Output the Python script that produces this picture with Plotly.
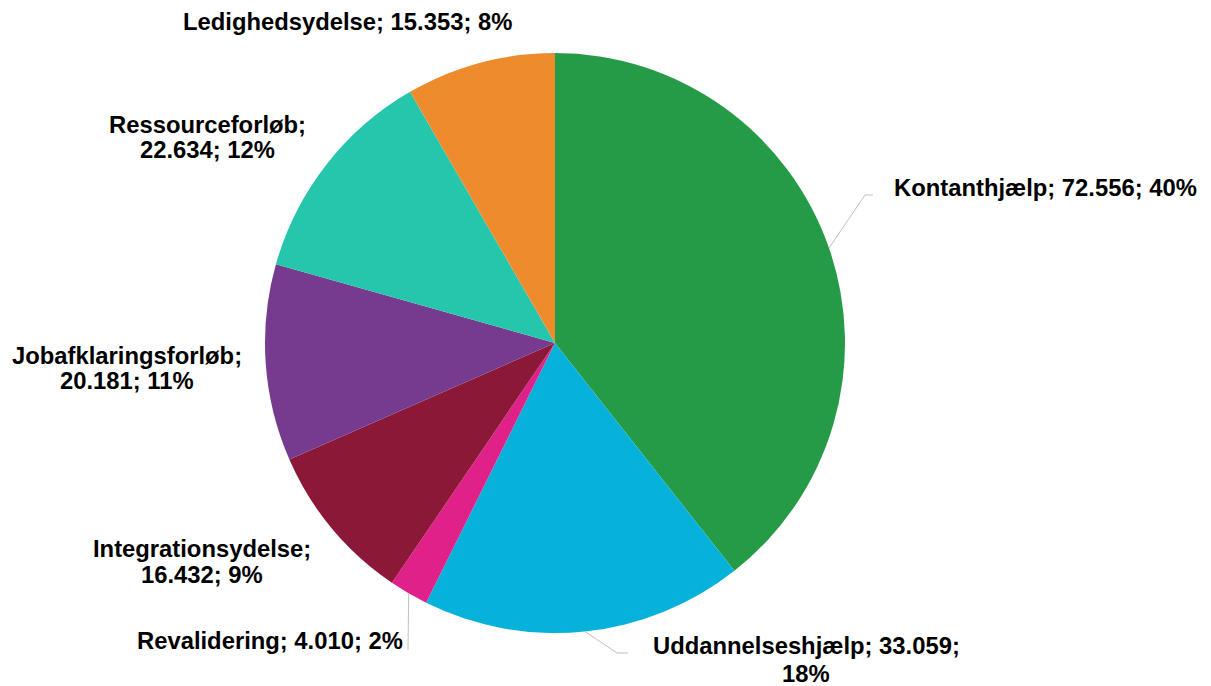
import math
import plotly.graph_objects as go

# ---- data ----
categories = ["Kontanthjælp", "Uddannelseshjælp", "Revalidering", "Integrationsydelse",
              "Jobafklaringsforløb", "Ressourceforløb", "Ledighedsydelse"]
values = [72556, 33059, 4010, 16432, 20181, 22634, 15353]
pct_labels = ["40%", "18%", "2%", "9%", "11%", "12%", "8%"]
colors = ["#259B48", "#07B2DA", "#E0218A", "#8C1838", "#763B8F", "#26C6AD", "#EE8B2D"]

W, H = 1211, 686
CX, CY, R = 555, 343, 290  # pie centre / radius in px
FONT_SIZE = 23.8

def fmt(v):
    return f"{v:,}".replace(",", ".")

# label layout: style of line break, centre x px, centre y px of each line
label_layout = {
    "Kontanthjælp": ("one", 1045, [188]),
    "Uddannelseshjælp": ("pct", 806, [645, 673]),
    "Revalidering": ("one", 270, [640]),
    "Integrationsydelse": ("val", 202, [548, 574]),
    "Jobafklaringsforløb": ("val", 127, [355, 380]),
    "Ressourceforløb": ("val", 207, [125, 149]),
    "Ledighedsydelse": ("one", 347, [21]),
}
# leader lines: elbow / end points (px)
leaders = {
    "Kontanthjælp": [(865, 195), (873, 195)],
    "Uddannelseshjælp": [(617, 653), (628, 653)],
    "Revalidering": [(408, 650)],
}

def px(x):
    return x / W

def py(y):
    return 1 - y / H

fig = go.Figure(go.Pie(
    labels=categories, values=values, sort=False, direction="clockwise", rotation=0,
    marker=dict(colors=colors, line=dict(width=0)),
    textinfo="none", hoverinfo="label+value+percent", showlegend=False,
    domain=dict(x=[px(CX - R), px(CX + R)], y=[py(CY + R), py(CY - R)]),
))

annotations = []
shapes = []
total = sum(values)
cum = 0
for cat, val, pct in zip(categories, values, pct_labels):
    mid = (cum + val / 2) / total * 2 * math.pi
    cum += val
    style, x, ys = label_layout[cat]
    if style == "one":
        lines = [f"{cat}; {fmt(val)}; {pct}"]
    elif style == "pct":
        lines = [f"{cat}; {fmt(val)};", pct]
    else:
        lines = [f"{cat};", f"{fmt(val)}; {pct}"]
    for line, y in zip(lines, ys):
        annotations.append(dict(x=px(x), y=py(y), xref="paper", yref="paper",
                                text=f"<b>{line}</b>", showarrow=False,
                                xanchor="center", yanchor="middle", align="center"))
    if cat in leaders:
        sx = CX + R * math.sin(mid)
        sy = CY - R * math.cos(mid)
        pts = [(sx, sy)] + leaders[cat]
        for (x0, y0), (x1, y1) in zip(pts[:-1], pts[1:]):
            shapes.append(dict(type="line", xref="paper", yref="paper",
                               x0=px(x0), y0=py(y0), x1=px(x1), y1=py(y1),
                               line=dict(color="#BFBFBF", width=1)))

fig.update_layout(
    width=W, height=H, margin=dict(l=0, r=0, t=0, b=0),
    paper_bgcolor="white", plot_bgcolor="white",
    font=dict(family="Liberation Sans, Arial, sans-serif", size=FONT_SIZE, color="#000000"),
    annotations=annotations, shapes=shapes,
)

fig.write_html("out.html")
